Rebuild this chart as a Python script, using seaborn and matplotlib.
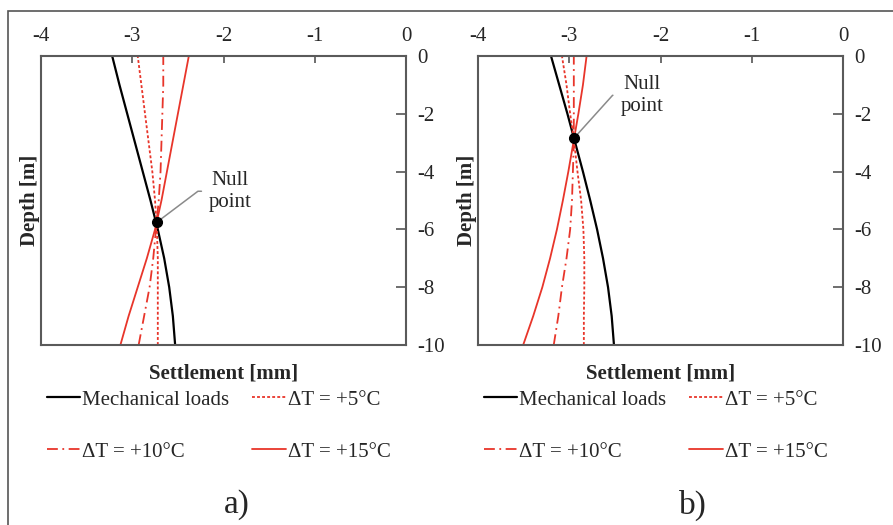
import seaborn as sns
import matplotlib.pyplot as plt
from matplotlib.patches import Rectangle
import pandas as pd

# depth of the readings (m)
depth = [0, -1, -2, -3, -4, -5, -6, -7, -8, -9, -10]

# settlement (mm), panel a)
mech_a = [-3.22, -3.14, -3.055, -2.97, -2.885, -2.80, -2.72, -2.65, -2.595, -2.555, -2.53]
dt5_a = [-2.94, -2.90, -2.86, -2.82, -2.78, -2.75, -2.73, -2.72, -2.72, -2.72, -2.72]
dt10_a = [-2.66, -2.66, -2.67, -2.68, -2.69, -2.71, -2.74, -2.77, -2.81, -2.87, -2.93]
dt15_a = [-2.38, -2.44, -2.50, -2.56, -2.62, -2.68, -2.75, -2.84, -2.94, -3.04, -3.13]

# settlement (mm), panel b)
mech_b = [-3.20, -3.11, -3.02, -2.935, -2.85, -2.77, -2.695, -2.63, -2.575, -2.535, -2.51]
dt5_b = [-3.08, -3.03, -2.99, -2.945, -2.91, -2.87, -2.845, -2.835, -2.835, -2.84, -2.84]
dt10_b = [-2.95, -2.95, -2.95, -2.95, -2.96, -2.97, -2.99, -3.03, -3.08, -3.12, -3.17]
dt15_b = [-2.81, -2.85, -2.90, -2.955, -3.01, -3.07, -3.135, -3.21, -3.295, -3.395, -3.505]

null_a = (-2.73, -5.75)
null_b = (-2.95, -2.85)

labels = ["Mechanical loads", "ΔT = +5°C", "ΔT = +10°C", "ΔT = +15°C"]
panel_names = ["a)", "b)"]

sns.set_style("white")
plt.rcParams['font.family'] = ['Liberation Serif', 'DejaVu Serif']
plt.rcParams['axes.unicode_minus'] = False

red = "#e8352a"
styles = [
    dict(color="black", lw=1.6, linestyle="-"),
    dict(color=red, lw=1.3, linestyle=(0, (1.6, 1.2))),
    dict(color=red, lw=1.3, linestyle=(0, (6, 2.5, 1, 2.5))),
    dict(color=red, lw=1.3, linestyle="-"),
]

fig = plt.figure(figsize=(8.93, 5.25), dpi=100)
W, H = 893, 525
ax_a = fig.add_axes([41 / W, 1 - 345 / H, 365 / W, 289 / H])
ax_b = fig.add_axes([478 / W, 1 - 345 / H, 365 / W, 289 / H])

panels = [
    (ax_a, [mech_a, dt5_a, dt10_a, dt15_a], null_a, (-2.16, -4.68), 37),
    (ax_b, [mech_b, dt5_b, dt10_b, dt15_b], null_b, (-2.44, -1.36), 48),
]

for ax, series, null, txt, ang in panels:
    for vals, lab, st in zip(series, labels, styles):
        df = pd.DataFrame({"Settlement": vals, "Depth": depth})
        sns.lineplot(data=df, x="Settlement", y="Depth", orient="y", estimator=None,
                     ax=ax, label=lab, **st)
    ax.plot([null[0]], [null[1]], "o", color="black", ms=7, zorder=5)
    ax.annotate("Null\npoint", xy=null, xytext=txt, ha="left", va="center",
                multialignment="center", fontsize=15,
                arrowprops=dict(arrowstyle="-", color="#8a8a8a", lw=1.1, relpos=(0, 0.5),
                                connectionstyle=f"angle,angleA=0,angleB={ang},rad=0",
                                shrinkA=3, shrinkB=0))

    ax.set_xlim(-4, 0)
    ax.set_ylim(-10, 0)
    ax.set_xticks([-4, -3, -2, -1, 0])
    ax.set_yticks([0, -2, -4, -6, -8, -10])
    ax.xaxis.tick_top()
    ax.xaxis.set_label_position("bottom")
    ax.yaxis.tick_right()
    ax.yaxis.set_label_position("left")
    ax.tick_params(axis="x", direction="in", length=5, width=1.2, color="#555555",
                   pad=7.5, labelsize=15)
    ax.tick_params(axis="y", direction="in", length=7, width=1.2, color="#555555",
                   pad=8, labelsize=15)
    for sp in ax.spines.values():
        sp.set_color("#5a5a5a")
        sp.set_linewidth(1.5)
    ax.set_xlabel("Settlement [mm]", fontsize=15, fontweight="bold", labelpad=13.5)
    ax.set_ylabel("Depth [m]", fontsize=15, fontweight="bold", labelpad=1)

    h, l = ax.get_legend_handles_labels()
    ax.legend([h[0], h[2], h[1], h[3]], [l[0], l[2], l[1], l[3]], ncol=2,
              loc="upper left", bbox_to_anchor=(0.016, -0.156), frameon=False,
              fontsize=15, borderpad=0, borderaxespad=0, handlelength=1.6,
              handletextpad=0.1, columnspacing=1.1, labelspacing=1.55)

fig.text(237 / W, 1 - 505 / H, panel_names[0], ha="center", va="center", fontsize=24)
fig.text(693 / W, 1 - 505 / H, panel_names[1], ha="center", va="center", fontsize=24)

fig.add_artist(Rectangle((8 / W, -0.05), 1.2, 1 - 11 / H + 0.05, transform=fig.transFigure,
                         fill=False, ec="#555555", lw=1.2))

fig.savefig("out.png", dpi=100)
